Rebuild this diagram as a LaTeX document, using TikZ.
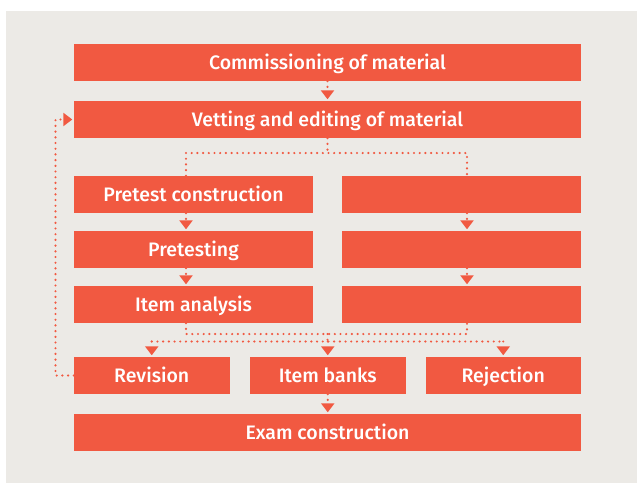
\documentclass[tikz,border=0pt]{standalone}
\usepackage{fontspec}
\setmainfont{Fira Sans}[UprightFont=* Medium]
\usetikzlibrary{arrows.meta}
\definecolor{boxred}{RGB}{241,89,65}
\definecolor{panel}{RGB}{236,234,230}
\begin{document}
\begin{tikzpicture}[x=1pt,y=-1pt,
  box/.style={rectangle,fill=boxred,inner sep=0pt,minimum height=37pt,text=white,font=\fontsize{19.5}{22}\selectfont,text height=17.5pt,text depth=3pt},
  wide/.style={box,minimum width=507pt},
  half/.style={box,minimum width=239pt},
  third/.style={box,minimum width=155.5pt},
  dotline/.style={draw=boxred,line width=2.4pt,line cap=round,dash pattern=on 0pt off 5.7pt},
  dotarrow/.style={dotline,-{Triangle[width=13pt,length=9pt]},shorten >=1.5pt}]
\useasboundingbox (0,0) rectangle (637,483);
\fill[white] (0,0) rectangle (637,483);
\fill[panel] (6,11) rectangle (637,483);
\coordinate (xL) at (186,0);
\coordinate (xM) at (327.5,0);
\coordinate (xR) at (467,0);
\coordinate (fb) at (55.5,0);
\coordinate (ys1) at (0,153);
\coordinate (ys2) at (0,334);
\coordinate (ys3) at (0,341.5);
\node[wide] (com) at (327.5,62.5) {Commissioning of material};
\node[wide] (vet) at (327.5,119.5) {Vetting and editing of material};
\node[half] (pre) at (193.5,194.5) {Pretest construction};
\node[half] (pt) at (193.5,249.5) {Pretesting};
\node[half] (ia) at (193.5,304.5) {Item analysis};
\node[half] (r1) at (461.5,194.5) {};
\node[half] (r2) at (461.5,249.5) {};
\node[half] (r3) at (461.5,304.5) {};
\node[third] (rev) at (151.75,375.5) {Revision};
\node[third] (bank) at (327.75,375.5) {Item banks};
\node[third] (rej) at (503.25,375.5) {Rejection};
\node[wide] (exam) at (327.5,432.5) {Exam construction};
% connectors
\draw[dotarrow] (com.south -| xM) -- (vet.north -| xM);
\draw[dotline] (vet.south -| xM) -- (ys1 -| xM);
\draw[dotline] (pre.north -| xL) -- (ys1 -| xL) -- (ys1 -| xR) -- (r1.north -| xR);
\draw[dotarrow] (pre.south -| xL) -- (pt.north -| xL);
\draw[dotarrow] (pt.south -| xL) -- (ia.north -| xL);
\draw[dotarrow] (r1.south -| xR) -- (r2.north -| xR);
\draw[dotarrow] (r2.south -| xR) -- (r3.north -| xR);
\draw[dotline] (ia.south -| xL) -- (ys2 -| xL) -- (ys2 -| xR) -- (r3.south -| xR);
\draw[dotline] (ys2 -| xM) -- (ys3 -| xM);
\draw[dotline] (ys3 -| rev.north) -- (ys3 -| rej.north);
\draw[dotarrow] (ys3 -| rev.north) -- (rev.north);
\draw[dotarrow] (ys3 -| bank.north) -- (bank.north);
\draw[dotarrow] (ys3 -| rej.north) -- (rej.north);
\draw[dotarrow] (bank.south) -- (exam.north -| bank.south);
\draw[dotarrow] (rev.west) -- (rev.west -| fb) |- (vet.west);
\end{tikzpicture}
\end{document}
